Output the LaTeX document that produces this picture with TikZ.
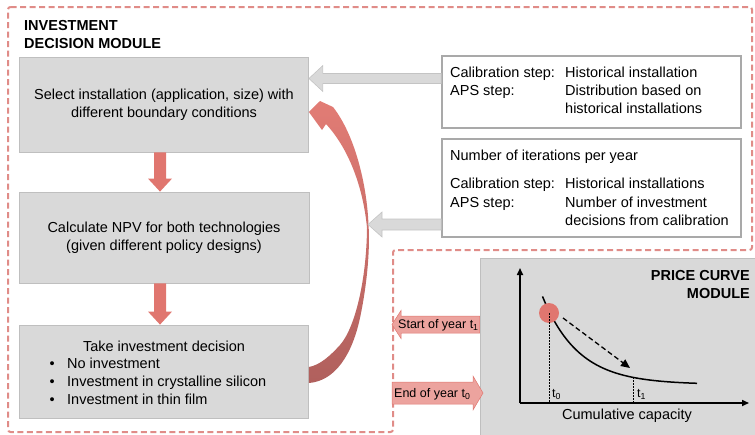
\documentclass[tikz,border=0pt]{standalone}
\usepackage{fontspec}
\setmainfont{Liberation Sans}
\usetikzlibrary{arrows.meta,calc}
\definecolor{dashred}{HTML}{E08C88}
\definecolor{arrred}{HTML}{E0766F}
\definecolor{lblfill}{HTML}{ECA39E}
\definecolor{boxgrey}{HTML}{D9D9D9}
\definecolor{boxedge}{HTML}{BFBFBF}
\definecolor{infoedge}{HTML}{A9A9A9}
\definecolor{arrowedge}{HTML}{C4C4C4}
\definecolor{curvetop}{HTML}{E27C75}
\definecolor{curvemid}{HTML}{F2C4C0}
\definecolor{curvebot}{HTML}{B0605D}
\begin{document}
\begin{tikzpicture}[x=1pt,y=-1pt,
 fmain/.style={font=\fontsize{14.5}{17.5}\selectfont},
 fsmall/.style={font=\fontsize{12.5}{15}\selectfont},
 fbold/.style={font=\fontsize{14.5}{17.5}\selectfont\bfseries},
 greybox/.style={draw=boxedge, fill=boxgrey, line width=0.8pt, inner sep=0pt, fmain, align=center},
 infobox/.style={draw=infoedge, fill=white, line width=1.6pt, inner sep=0pt},
 txt/.style={inner sep=0pt, anchor=base west, fmain},
 modborder/.style={draw=dashred, line width=2pt, dash pattern=on 6pt off 3.5pt, rounded corners=2.5pt},
 redarrow/.style={fill=arrred, draw=none},
 greyarrow/.style={fill=boxgrey, draw=arrowedge, line width=0.6pt},
 lblarrow/.style={fill=lblfill, draw=arrred, line width=0.5pt},
 axis/.style={line width=1.6pt, -{Triangle[length=7pt,width=6pt]}},
 guide/.style={line width=1pt, dash pattern=on 1.5pt off 1.5pt},
]
\useasboundingbox (0,0) rectangle (755,434);

% module borders
\draw[modborder] (8,7) -- (752,7) -- (752,250) -- (393,250) -- (393,432) -- (8,432) -- cycle;

% title
\node[txt, fbold] (title1) at (24,30.5) {INVESTMENT};
\node[txt, fbold] (title2) at (24,48.5) {DECISION MODULE};

% left boxes
\node[greybox, minimum width=289pt, minimum height=95pt] (b1) at (164,104.5) {Select installation (application, size) with\\different boundary conditions};
\node[greybox, minimum width=290pt, minimum height=91pt] (b2) at (164,237.5) {Calculate NPV for both technologies\\(given different policy designs)};
\node[greybox, minimum width=289pt, minimum height=93pt] (b3) at (164,371.5) {};
\node[inner sep=0pt, anchor=base, fmain] (b3t) at (164,351) {Take investment decision};
\node[txt] (b3a) at (49.5,368.5) {\makebox[17.5pt][l]{•}No investment};
\node[txt] (b3b) at (49.5,386.5) {\makebox[17.5pt][l]{•}Investment in crystalline silicon};
\node[txt] (b3c) at (49.5,404.5) {\makebox[17.5pt][l]{•}Investment in thin film};

% red down arrows
\fill[redarrow] ($(b1.south)+(-10,0)$) -- ($(b2.north)+(-10,-13)$) -- ($(b2.north)+(-16,-13)$) -- ($(b2.north)+(-4,0)$) -- ($(b2.north)+(8,-13)$) -- ($(b2.north)+(2,-13)$) -- ($(b1.south)+(2,0)$) -- cycle;
\fill[redarrow] ($(b2.south)+(-10,0)$) -- ($(b3.north)+(-10,-13)$) -- ($(b3.north)+(-16,-13)$) -- ($(b3.north)+(-4,0)$) -- ($(b3.north)+(8,-13)$) -- ($(b3.north)+(2,-13)$) -- ($(b2.south)+(2,0)$) -- cycle;

% right info boxes
\node[infobox, minimum width=299pt, minimum height=72pt] (rA) at (591.5,92) {};
\node[infobox, minimum width=299pt, minimum height=98pt] (rB) at (591.5,188) {};
\node[txt] (rA1) at (450,77) {Calibration step:};
\node[txt] (rA2) at (565,77) {Historical installation};
\node[txt] (rA3) at (450,95) {APS step:};
\node[txt] (rA4) at (565,95) {Distribution based on};
\node[txt] (rA5) at (565,113) {historical installations};
\node[txt] (rB0) at (450,160) {Number of iterations per year};
\node[txt] (rB1) at (450,188) {Calibration step:};
\node[txt] (rB2) at (565,188) {Historical installations};
\node[txt] (rB3) at (450,207.5) {APS step:};
\node[txt] (rB4) at (565,207.5) {Number of investment};
\node[txt] (rB5) at (565,225) {decisions from calibration};

% grey arrows
\coordinate (g1tip) at (b1.east |- 0,78.5);
\coordinate (g1tail) at (rA.west |- 0,78.5);
\draw[greyarrow] (g1tip) -- ++(14,-13) -- ++(0,8) -- ($(g1tail)+(0,-5)$) -- ($(g1tail)+(0,5)$) -- ($(g1tip)+(14,5)$) -- ($(g1tip)+(14,13)$) -- cycle;

% curved feedback arrow
\coordinate (fbout) at ($(b3.east)+(0,11.5)$);
\coordinate (fbin) at ($(b3.east)+(0,-4.5)$);
\coordinate (fbtip) at ($(b1.east)+(0,7.5)$);
\shade[top color=curvetop, middle color=curvemid, bottom color=curvebot]
 (fbout) .. controls (335,381) and (352,355) .. (360,318)
 .. controls (368,280) and (370,245) .. (368.5,225)
 .. controls (367,185) and (355,135) .. (333,107)
 -- (320,101) -- (fbtip) -- (322,130) -- (326,124)
 .. controls (350,150) and (363.5,190) .. (367,228)
 .. controls (366.5,280) and (355,328) .. (340,345)
 .. controls (330,356) and (320,365) .. (fbin)
 -- cycle;

\coordinate (loop) at (368,224.5);
\coordinate (g2tail) at (rB.west |- loop);
\draw[greyarrow] (loop) -- ++(14,-12.5) -- ++(0,7) -- ($(g2tail)+(0,-5.5)$) -- ($(g2tail)+(0,5.5)$) -- ($(loop)+(14,5.5)$) -- ($(loop)+(14,12.5)$) -- cycle;

% price curve module
\node[draw=boxedge, fill=boxgrey, line width=0.8pt, minimum width=277pt, minimum height=178pt, inner sep=0pt] (pc) at (618.5,347) {};
\node[inner sep=0pt, anchor=base east, fbold] (pc1) at (750,280) {PRICE CURVE};
\node[inner sep=0pt, anchor=base east, fbold] (pc2) at (750,298) {MODULE};

\coordinate (org) at (520,403);
\coordinate (ytop) at (520,268);
\coordinate (xend) at (749,403);
\draw[axis] (org) -- (ytop);
\draw[axis] (org) -- (xend);
\draw[line width=1.5pt] plot[domain=542.5:697, samples=60] (\x, {384.5-71.5*exp(-(\x-550)/36)});
\coordinate (t1pt) at (633,377.4);
\draw[guide] (t1pt) -- (t1pt |- org);
\node[circle, fill=arrred, minimum size=20pt, inner sep=0pt] (pt) at (549,313) {};
\draw[guide] (pt.center) -- (pt.center |- org);
\coordinate (da1) at (563,318);
\coordinate (da2) at (630,368);
\draw[line width=1.3pt, dash pattern=on 5pt off 3pt, -{Triangle[length=9pt,width=8pt]}] (da1) -- (da2);
\node[txt, fsmall] (t0lbl) at (552,397.5) {t\textsubscript{0}};
\node[txt, fsmall] (t1lbl) at (637,397.5) {t\textsubscript{1}};
\node[inner sep=0pt, anchor=base, fmain] (xlbl) at (627,419) {Cumulative capacity};

% label arrows
\coordinate (s1tip) at (392,324.5);
\coordinate (s1tail) at (pc.west |- s1tip);
\draw[lblarrow] (s1tip) -- ++(9,-14) -- ++(0,5.5) -- ($(s1tail)+(0,-8.5)$) -- ($(s1tail)+(0,8.5)$) -- ($(s1tip)+(9,8.5)$) -- ($(s1tip)+(9,14)$) -- cycle;
\node[txt, fsmall] (s1) at (398,328.5) {Start of year t\textsubscript{1}};

\coordinate (e1tail) at (392,393);
\coordinate (e1tip) at (483,393);
\draw[lblarrow] ($(e1tail)+(0,-11)$) -- ($(e1tip)+(-10,-11)$) -- ($(e1tip)+(-10,-17)$) -- (e1tip) -- ($(e1tip)+(-10,17)$) -- ($(e1tip)+(-10,11)$) -- ($(e1tail)+(0,11)$) -- cycle;
\node[txt, fsmall] (e1) at (394,397.5) {End of year t\textsubscript{0}};
\end{tikzpicture}
\end{document}
